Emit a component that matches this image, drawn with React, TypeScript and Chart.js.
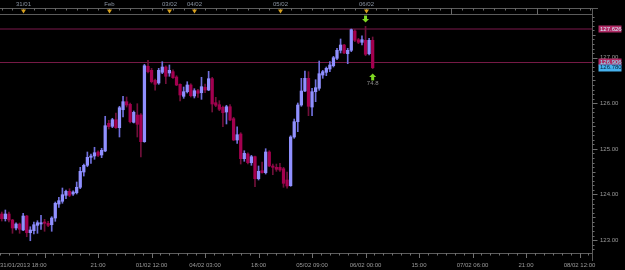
import React, { useEffect, useRef } from 'react';
import { Chart, registerables } from 'chart.js';

Chart.register(...registerables);

// ---- data (H1 candles, USD/JPY-like) ----
const opens = [
  123.572, 123.469, 123.572, 123.440, 123.265, 123.353, 123.221, 123.528, 123.162, 123.206,
  123.324, 123.353, 123.397, 123.368, 123.337, 123.484, 123.791, 123.851, 123.982, 124.070,
  124.011, 124.039, 124.158, 124.493, 124.640, 124.815, 124.844, 124.932, 124.866, 124.954,
  125.561, 125.495, 125.640, 125.465, 125.859, 126.035, 125.978, 125.583, 125.743, 125.743,
  125.158, 126.811, 126.723, 126.504, 126.445, 126.679, 126.796, 126.664, 126.693, 126.576,
  126.416, 126.153, 126.254, 126.401, 126.160, 126.276, 126.232, 126.351, 126.291, 126.539,
  126.013, 125.969, 125.912, 125.809, 125.925, 125.662, 125.195, 125.326, 124.785, 124.888,
  124.697, 124.829, 124.346, 124.522, 124.478, 124.932, 124.625, 124.596, 124.596, 124.565,
  124.318, 124.193, 125.261, 125.596, 125.962, 126.269, 126.548, 125.918, 126.254, 126.329,
  126.620, 126.679, 126.752, 126.824, 126.986, 127.162, 127.278, 127.087, 127.162, 127.585,
  127.394, 127.337, 127.381, 127.087, 127.381,
];
const highs = [
  123.616, 123.660, 123.616, 123.456, 123.381, 123.375, 123.587, 123.544, 123.293, 123.397,
  123.425, 123.544, 123.456, 123.412, 123.513, 123.835, 123.938, 124.142, 124.098, 124.127,
  124.083, 124.274, 124.596, 124.668, 124.932, 124.888, 125.035, 124.960, 125.013, 125.715,
  125.627, 125.671, 125.787, 125.934, 126.153, 126.138, 126.006, 125.831, 125.991, 125.772,
  126.855, 126.943, 126.767, 126.533, 126.767, 126.912, 126.824, 126.840, 126.736, 126.605,
  126.429, 126.357, 126.473, 126.429, 126.320, 126.307, 126.570, 126.423, 126.701, 126.570,
  126.131, 126.057, 125.940, 125.956, 125.969, 125.693, 125.486, 125.355, 124.960, 124.916,
  124.859, 124.844, 124.625, 124.712, 125.004, 124.960, 124.668, 124.668, 124.684, 124.596,
  124.493, 125.289, 125.655, 126.006, 126.548, 126.708, 126.693, 126.329, 126.517, 126.927,
  126.723, 126.796, 126.912, 127.030, 127.206, 127.410, 127.294, 127.206, 127.629, 127.614,
  127.425, 127.482, 127.688, 127.425, 127.454,
];
const lows = [
  123.418, 123.418, 123.397, 123.149, 123.221, 123.149, 123.206, 123.074, 122.986, 123.133,
  123.149, 123.236, 123.193, 123.293, 123.193, 123.412, 123.719, 123.807, 123.908, 123.951,
  123.982, 124.011, 124.127, 124.405, 124.609, 124.684, 124.772, 124.829, 124.807, 124.938,
  125.436, 125.465, 125.451, 125.261, 125.699, 125.918, 125.568, 125.568, 125.261, 124.822,
  125.144, 126.664, 126.445, 126.285, 126.416, 126.649, 126.429, 126.592, 126.548, 126.386,
  126.050, 126.109, 126.226, 126.138, 126.116, 126.131, 126.087, 126.232, 126.276, 125.809,
  125.925, 125.837, 125.486, 125.546, 125.618, 125.179, 125.122, 124.668, 124.728, 124.668,
  124.640, 124.171, 124.318, 124.465, 124.449, 124.609, 124.434, 124.508, 124.508, 124.158,
  124.136, 124.179, 125.232, 125.377, 125.934, 126.254, 125.728, 125.728, 126.035, 126.285,
  126.548, 126.605, 126.693, 126.796, 126.956, 127.103, 127.087, 126.868, 127.131, 127.351,
  127.307, 127.278, 127.043, 127.059, 126.760,
];
const closes = [
  123.469, 123.572, 123.440, 123.265, 123.353, 123.236, 123.528, 123.162, 123.221, 123.337,
  123.381, 123.381, 123.368, 123.324, 123.484, 123.807, 123.864, 123.995, 124.070, 123.982,
  124.054, 124.158, 124.508, 124.640, 124.815, 124.844, 124.916, 124.859, 124.969, 125.508,
  125.487, 125.640, 125.465, 125.903, 126.035, 125.962, 125.596, 125.802, 125.539, 125.158,
  126.824, 126.693, 126.473, 126.416, 126.723, 126.796, 126.592, 126.723, 126.561, 126.401,
  126.182, 126.254, 126.401, 126.166, 126.276, 126.219, 126.364, 126.291, 126.539, 125.984,
  125.956, 125.868, 125.793, 125.925, 125.633, 125.195, 125.311, 124.785, 124.903, 124.697,
  124.829, 124.346, 124.508, 124.478, 124.932, 124.625, 124.596, 124.552, 124.537, 124.245,
  124.186, 125.261, 125.596, 125.962, 126.269, 126.548, 125.934, 126.254, 126.342, 126.649,
  126.693, 126.767, 126.840, 127.000, 127.162, 127.278, 127.103, 127.162, 127.614, 127.381,
  127.337, 127.394, 127.074, 127.381, 126.780,
];

const slotCount = 166; // bar slots visible on the time axis (incl. empty future)
const yMin = 122.717;
const yMax = 127.958;

const yTickValues = [123, 124, 125, 126, 127];
const yTickLabels = ['123.00', '124.00', '125.00', '126.00', '127.00'];

const firstTimeLabel = '31/01/2013 18:00';
const xMajorIdx = [12, 27, 42, 57, 72, 87, 102, 117, 132, 147, 162];
const xMajorLabels = ['', '21:00', '01/02 12:00', '04/02 03:00', '18:00', '05/02 09:00', '06/02 00:00', '15:00', '07/02 06:00', '21:00', '08/02 12:00'];

const dayMarkerIdx = [6, 30, 47, 54, 78, 102];
const dayMarkerLabels = ['31/01', 'Feb', '03/02', '04/02', '05/02', '06/02'];
const futureDayIdx = [126, 150];

const priceLineValues = [127.626, 126.906];
const priceTagValues = [127.626, 126.906, 126.78];
const priceTagTexts = ['127.626', '126.906', '126.780'];

const downSignalIdx = [102];
const downSignalPrice = [127.77];
const upSignalIdx = [104];
const upSignalPrice = [126.655];
const upSignalLabels = ['74.8'];

// ---- styles ----
const BULL_BODY = '#9090ff';
const BEAR_BODY = '#a3004f';
const BULL_WICK = '#7070dd';
const BEAR_WICK = '#70103a';
const AXIS = '#5c5c5c';
const TEXT = '#9a9a9a';
const FONT = '6px "Liberation Sans", Arial, sans-serif';

const isBull = (i: number) => closes[i] >= opens[i];

const decor = {
  id: 'decor',
  beforeDraw(chart: any) {
    const { ctx, width, height } = chart;
    ctx.save();
    ctx.fillStyle = '#000000';
    ctx.fillRect(0, 0, width, height);
    ctx.restore();
  },
  beforeDatasetsDraw(chart: any) {
    const { ctx, chartArea: a, scales } = chart;
    const y = scales.y;
    const colors = ['#3e0c26', '#761a46'];
    const widths = [2, 1];
    ctx.save();
    priceLineValues.forEach((v, k) => {
      const py = Math.round(y.getPixelForValue(v)) + (widths[k] === 1 ? 0.5 : 0);
      ctx.strokeStyle = colors[k];
      ctx.lineWidth = widths[k];
      ctx.beginPath();
      ctx.moveTo(a.left, py);
      ctx.lineTo(a.right, py);
      ctx.stroke();
    });
    ctx.restore();
  },
  afterDraw(chart: any) {
    const { ctx, chartArea: a, scales } = chart;
    const x = scales.x;
    const y = scales.y;
    ctx.save();
    ctx.lineWidth = 1;
    ctx.font = FONT;

    // top band
    const bandTop = 8.5;
    const bandBottom = a.top + 0.5;
    ctx.strokeStyle = AXIS;
    ctx.beginPath();
    ctx.moveTo(0, bandTop); ctx.lineTo(598, bandTop);
    ctx.moveTo(0, bandBottom); ctx.lineTo(a.right, bandBottom);
    ctx.stroke();
    ctx.strokeStyle = '#6a6a6a';
    ctx.beginPath();
    for (let i = 0; i < slotCount; i += 3) {
      const px = Math.round(x.getPixelForValue(i)) + 0.5;
      ctx.moveTo(px, bandTop); ctx.lineTo(px, bandTop + 2);
    }
    futureDayIdx.forEach((i) => {
      const px = Math.round(x.getPixelForValue(i)) + 0.5;
      ctx.moveTo(px, bandTop); ctx.lineTo(px, bandBottom);
    });
    ctx.stroke();
    dayMarkerIdx.forEach((i, k) => {
      const px = Math.round(x.getPixelForValue(i)) + 0.5;
      ctx.fillStyle = '#d9a21e';
      ctx.beginPath();
      ctx.moveTo(px - 2.5, 9.5);
      ctx.lineTo(px + 2.5, 9.5);
      ctx.lineTo(px, 13.5);
      ctx.closePath();
      ctx.fill();
      ctx.fillStyle = '#8b95a4';
      ctx.textAlign = 'center';
      ctx.textBaseline = 'alphabetic';
      ctx.fillText(dayMarkerLabels[k], px, 6.3);
    });

    // right axis
    const ax = a.right + 0.5;
    ctx.strokeStyle = AXIS;
    ctx.beginPath();
    ctx.moveTo(ax, bandTop); ctx.lineTo(ax, a.bottom + 8);
    ctx.moveTo(0, a.bottom + 0.5); ctx.lineTo(ax, a.bottom + 0.5);
    ctx.stroke();
    ctx.strokeStyle = '#707070';
    ctx.beginPath();
    for (let k = 1228; k <= 1279; k++) {
      const py = Math.round(y.getPixelForValue(k / 10)) + 0.5;
      if (py < a.top || py > a.bottom) continue;
      const len = k % 10 === 0 ? 5 : k % 5 === 0 ? 3 : 2;
      ctx.moveTo(ax, py); ctx.lineTo(ax + len, py);
    }
    ctx.stroke();
    ctx.fillStyle = TEXT;
    ctx.textAlign = 'left';
    ctx.textBaseline = 'middle';
    yTickValues.forEach((v, k) => {
      ctx.fillText(yTickLabels[k], 600, y.getPixelForValue(v));
    });

    // bottom axis
    ctx.strokeStyle = '#707070';
    ctx.beginPath();
    for (let m = -5; 12 + 2.5 * m < slotCount; m++) {
      const v = 12 + 2.5 * m;
      const px = Math.round(x.getPixelForValue(v)) + 0.5;
      const major = m % 6 === 0;
      ctx.moveTo(px, a.bottom); ctx.lineTo(px, a.bottom + (major ? 5 : 2.5));
    }
    ctx.stroke();
    ctx.fillStyle = TEXT;
    ctx.textBaseline = 'alphabetic';
    ctx.textAlign = 'left';
    ctx.fillText(firstTimeLabel, 0, 267);
    ctx.textAlign = 'center';
    xMajorIdx.forEach((i, k) => {
      if (!xMajorLabels[k]) return;
      ctx.fillText(xMajorLabels[k], x.getPixelForValue(i), 267);
    });

    // price tags
    const tagBg = ['#b02a64', '#b02a64', '#46b2ee'];
    const tagFg = ['#d8f4ff', '#8ef0ff', '#06223a'];
    ctx.textAlign = 'left';
    ctx.textBaseline = 'middle';
    priceTagValues.forEach((v, k) => {
      const py = y.getPixelForValue(v);
      ctx.fillStyle = tagBg[k];
      ctx.fillRect(598.5, Math.round(py) - 3.5, 23, 7);
      ctx.fillStyle = tagFg[k];
      ctx.fillText(priceTagTexts[k], 600, py);
    });

    // signals
    ctx.fillStyle = '#7fd822';
    downSignalIdx.forEach((i, k) => {
      const px = x.getPixelForValue(i);
      const tip = y.getPixelForValue(downSignalPrice[k]);
      ctx.fillRect(px - 1.5, tip - 7, 3, 4);
      ctx.beginPath();
      ctx.moveTo(px - 3.5, tip - 3.5);
      ctx.lineTo(px + 3.5, tip - 3.5);
      ctx.lineTo(px, tip);
      ctx.closePath();
      ctx.fill();
    });
    upSignalIdx.forEach((i, k) => {
      const px = x.getPixelForValue(i);
      const tip = y.getPixelForValue(upSignalPrice[k]);
      ctx.fillStyle = '#7fd822';
      ctx.beginPath();
      ctx.moveTo(px, tip);
      ctx.lineTo(px - 3.5, tip + 3.5);
      ctx.lineTo(px + 3.5, tip + 3.5);
      ctx.closePath();
      ctx.fill();
      ctx.fillRect(px - 1.5, tip + 3, 3, 4);
      ctx.fillStyle = '#8f8f8f';
      ctx.textAlign = 'center';
      ctx.textBaseline = 'alphabetic';
      ctx.fillText(upSignalLabels[k], px, tip + 12);
    });
    ctx.restore();
  },
};

export default function App() {
  const ref = useRef<HTMLCanvasElement>(null);
  useEffect(() => {
    document.body.style.margin = '0';
    document.body.style.background = '#000';
    const canvas = ref.current;
    if (!canvas) return;
    const labels = Array.from({ length: slotCount }, (_, i) => String(i));
    const bodies = opens.map((o, i) => [Math.min(o, closes[i]), Math.max(o, closes[i])]);
    const wicks = lows.map((l, i) => [l, highs[i]]);
    const chart = new Chart(canvas, {
      type: 'bar',
      data: {
        labels,
        datasets: [
          {
            label: 'body',
            data: bodies as any,
            grouped: false,
            barThickness: 2.6,
            minBarLength: 1,
            borderWidth: 0,
            backgroundColor: (c: any) => (isBull(c.dataIndex) ? BULL_BODY : BEAR_BODY),
          } as any,
          {
            label: 'wick',
            data: wicks as any,
            grouped: false,
            barThickness: 1,
            borderWidth: 0,
            backgroundColor: (c: any) => (isBull(c.dataIndex) ? BULL_WICK : BEAR_WICK),
          } as any,
        ],
      },
      options: {
        responsive: false,
        maintainAspectRatio: false,
        animation: false,
        layout: { padding: { left: 0, top: 14, right: 33, bottom: 17 } },
        plugins: { legend: { display: false }, tooltip: { enabled: false } },
        scales: {
          x: { display: false, offset: true },
          y: { display: false, min: yMin, max: yMax },
        },
      },
      plugins: [decor],
    });
    return () => chart.destroy();
  }, []);
  return (
    <div style={{ position: 'fixed', left: 0, top: 0, width: 625, height: 270, background: '#000' }}>
      <canvas ref={ref} width={625} height={270} style={{ display: 'block', width: 625, height: 270 }} />
    </div>
  );
}
